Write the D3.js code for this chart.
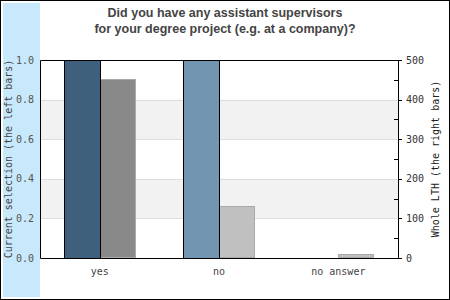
<!DOCTYPE html>
<html>
<head>
<meta charset="utf-8">
<script src="https://cdn.jsdelivr.net/npm/d3@7"></script>
<style>
  body { margin: 0; background: #fff; }
  svg { display: block; }
</style>
</head>
<body>
<div id="viz"></div>
<script>
// data
var categories = ["yes", "no", "no answer"];
var currentSelection = [1.0, 1.0, 0];   // left bars, 0..1
var wholeLTH = [453, 131, 10];          // right bars, counts
var leftColours = ["#3f607c", "#7295b1", "#7295b1"];
var rightColours = ["#898989", "#c0c0c0", "#c0c0c0"];
var leftTicks = [0, 0.2, 0.4, 0.6, 0.8, 1.0];
var rightTicks = [0, 100, 200, 300, 400, 500];
var rightMinor = [50, 150, 250, 350, 450];
var titleLines = ["Did you have any assistant supervisors", "for your degree project (e.g. at a company)?"];

var width = 450, height = 300;
var margin = {top: 60, right: 52, bottom: 42, left: 40};
var plotW = width - margin.left - margin.right,
    plotH = height - margin.top - margin.bottom;

var svg = d3.select("#viz")
  .append("svg")
  .attr("width", width)
  .attr("height", height);

// outer frame and the blue strip
svg.append("rect")
  .attr("x", 0.5).attr("y", 0.5)
  .attr("width", width - 1).attr("height", height - 1)
  .attr("fill", "#fff").attr("stroke", "#000");
svg.append("rect")
  .attr("x", 3).attr("y", 3)
  .attr("width", 37).attr("height", 294)
  .attr("fill", "#c8e8fc");

// title
svg.append("g").selectAll("text")
  .data(titleLines)
  .enter()
  .append("text")
  .attr("x", width / 2)
  .attr("y", function(d, i) { return 17 + i * 16; })
  .attr("text-anchor", "middle")
  .attr("font-family", "Liberation Sans, Arial, sans-serif")
  .attr("font-weight", "bold")
  .attr("font-size", "12.5px")
  .attr("fill", "#444")
  .text(function(d) { return d; });

var g = svg.append("g")
  .attr("transform", "translate(" + margin.left + "," + margin.top + ")");

var x = d3.scaleBand().domain(categories).range([0, plotW]);
var yL = d3.scaleLinear().domain([0, 1]).range([plotH, 0]);
var yR = d3.scaleLinear().domain([0, 500]).range([plotH, 0]);

// alternating bands
var bandPairs = [[0.2, 0.4], [0.6, 0.8]];
g.selectAll("rect.band")
  .data(bandPairs)
  .enter()
  .append("rect")
  .attr("class", "band")
  .attr("x", 0)
  .attr("y", function(d) { return yL(d[1]); })
  .attr("width", plotW)
  .attr("height", function(d) { return yL(d[0]) - yL(d[1]); })
  .attr("fill", "#f2f2f2");

// grid lines
g.selectAll("line.grid")
  .data(leftTicks.slice(1, -1))
  .enter()
  .append("line")
  .attr("x1", 0).attr("x2", plotW)
  .attr("y1", function(d) { return Math.round(yL(d)) + 0.5; })
  .attr("y2", function(d) { return Math.round(yL(d)) + 0.5; })
  .attr("stroke", "#dedede");

var barW = 36;

// right bars (whole LTH)
g.selectAll("rect.right")
  .data(categories)
  .enter()
  .append("rect")
  .attr("x", function(d) { return Math.round(x(d) + x.bandwidth() / 2) + 0.5; })
  .attr("y", function(d, i) { return Math.round(yR(wholeLTH[i])) + 0.5; })
  .attr("width", barW - 1)
  .attr("height", function(d, i) { return Math.max(0, plotH - Math.round(yR(wholeLTH[i])) - 1); })
  .attr("fill", function(d, i) { return rightColours[i]; })
  .attr("stroke", "#aaa");

// left bars (current selection)
g.selectAll("rect.left")
  .data(categories.filter(function(d, i) { return currentSelection[i] > 0; }))
  .enter()
  .append("rect")
  .attr("x", function(d) { return Math.round(x(d) + x.bandwidth() / 2) - barW + 0.5; })
  .attr("y", function(d) { return Math.round(yL(currentSelection[categories.indexOf(d)])) + 0.5; })
  .attr("width", barW)
  .attr("height", function(d) { return plotH - Math.round(yL(currentSelection[categories.indexOf(d)])); })
  .attr("fill", function(d) { return leftColours[categories.indexOf(d)]; })
  .attr("stroke", "#000");

// frame
g.append("path")
  .attr("d", "M0.5," + plotH + ".5V0.5H" + plotW + ".5V" + plotH + ".5H0.5")
  .attr("fill", "none")
  .attr("stroke", "#000");

var monoFont = "DejaVu Sans Mono, monospace";

// left axis labels
g.selectAll("text.ly")
  .data(leftTicks)
  .enter()
  .append("text")
  .attr("x", -6)
  .attr("y", function(d) { return yL(d); })
  .attr("dy", "0.35em")
  .attr("text-anchor", "end")
  .attr("font-family", monoFont)
  .attr("font-size", "10px")
  .attr("fill", "#555")
  .text(function(d) { return d3.format(".1f")(d); });

// right axis: major ticks outward, minor inward
var rAxis = g.append("g").attr("transform", "translate(" + plotW + ",0)");
rAxis.selectAll("line.major")
  .data(rightTicks)
  .enter()
  .append("line")
  .attr("x1", 0).attr("x2", 4)
  .attr("y1", function(d) { return Math.round(yR(d)) + 0.5; })
  .attr("y2", function(d) { return Math.round(yR(d)) + 0.5; })
  .attr("stroke", "#000");
rAxis.selectAll("line.minor")
  .data(rightMinor)
  .enter()
  .append("line")
  .attr("x1", -4).attr("x2", 0)
  .attr("y1", function(d) { return Math.round(yR(d)) + 0.5; })
  .attr("y2", function(d) { return Math.round(yR(d)) + 0.5; })
  .attr("stroke", "#000");
rAxis.selectAll("text")
  .data(rightTicks)
  .enter()
  .append("text")
  .attr("x", 8)
  .attr("y", function(d) { return yR(d); })
  .attr("dy", "0.35em")
  .attr("font-family", monoFont)
  .attr("font-size", "10px")
  .attr("fill", "#333")
  .text(function(d) { return d; });

// category labels
g.selectAll("text.cat")
  .data(categories)
  .enter()
  .append("text")
  .attr("x", function(d) { return x(d) + x.bandwidth() / 2; })
  .attr("y", plotH + 17)
  .attr("text-anchor", "middle")
  .attr("font-family", monoFont)
  .attr("font-size", "10px")
  .attr("fill", "#444")
  .text(function(d) { return d; });

// axis titles
svg.append("text")
  .attr("transform", "translate(12," + (margin.top + plotH / 2) + ") rotate(-90)")
  .attr("text-anchor", "middle")
  .attr("font-family", monoFont)
  .attr("font-size", "10px")
  .attr("fill", "#444")
  .text("Current selection (the left bars)");
svg.append("text")
  .attr("transform", "translate(439," + (margin.top + plotH / 2) + ") rotate(-90)")
  .attr("text-anchor", "middle")
  .attr("font-family", monoFont)
  .attr("font-size", "10px")
  .attr("fill", "#222")
  .text("Whole LTH (the right bars)");
</script>
</body>
</html>
